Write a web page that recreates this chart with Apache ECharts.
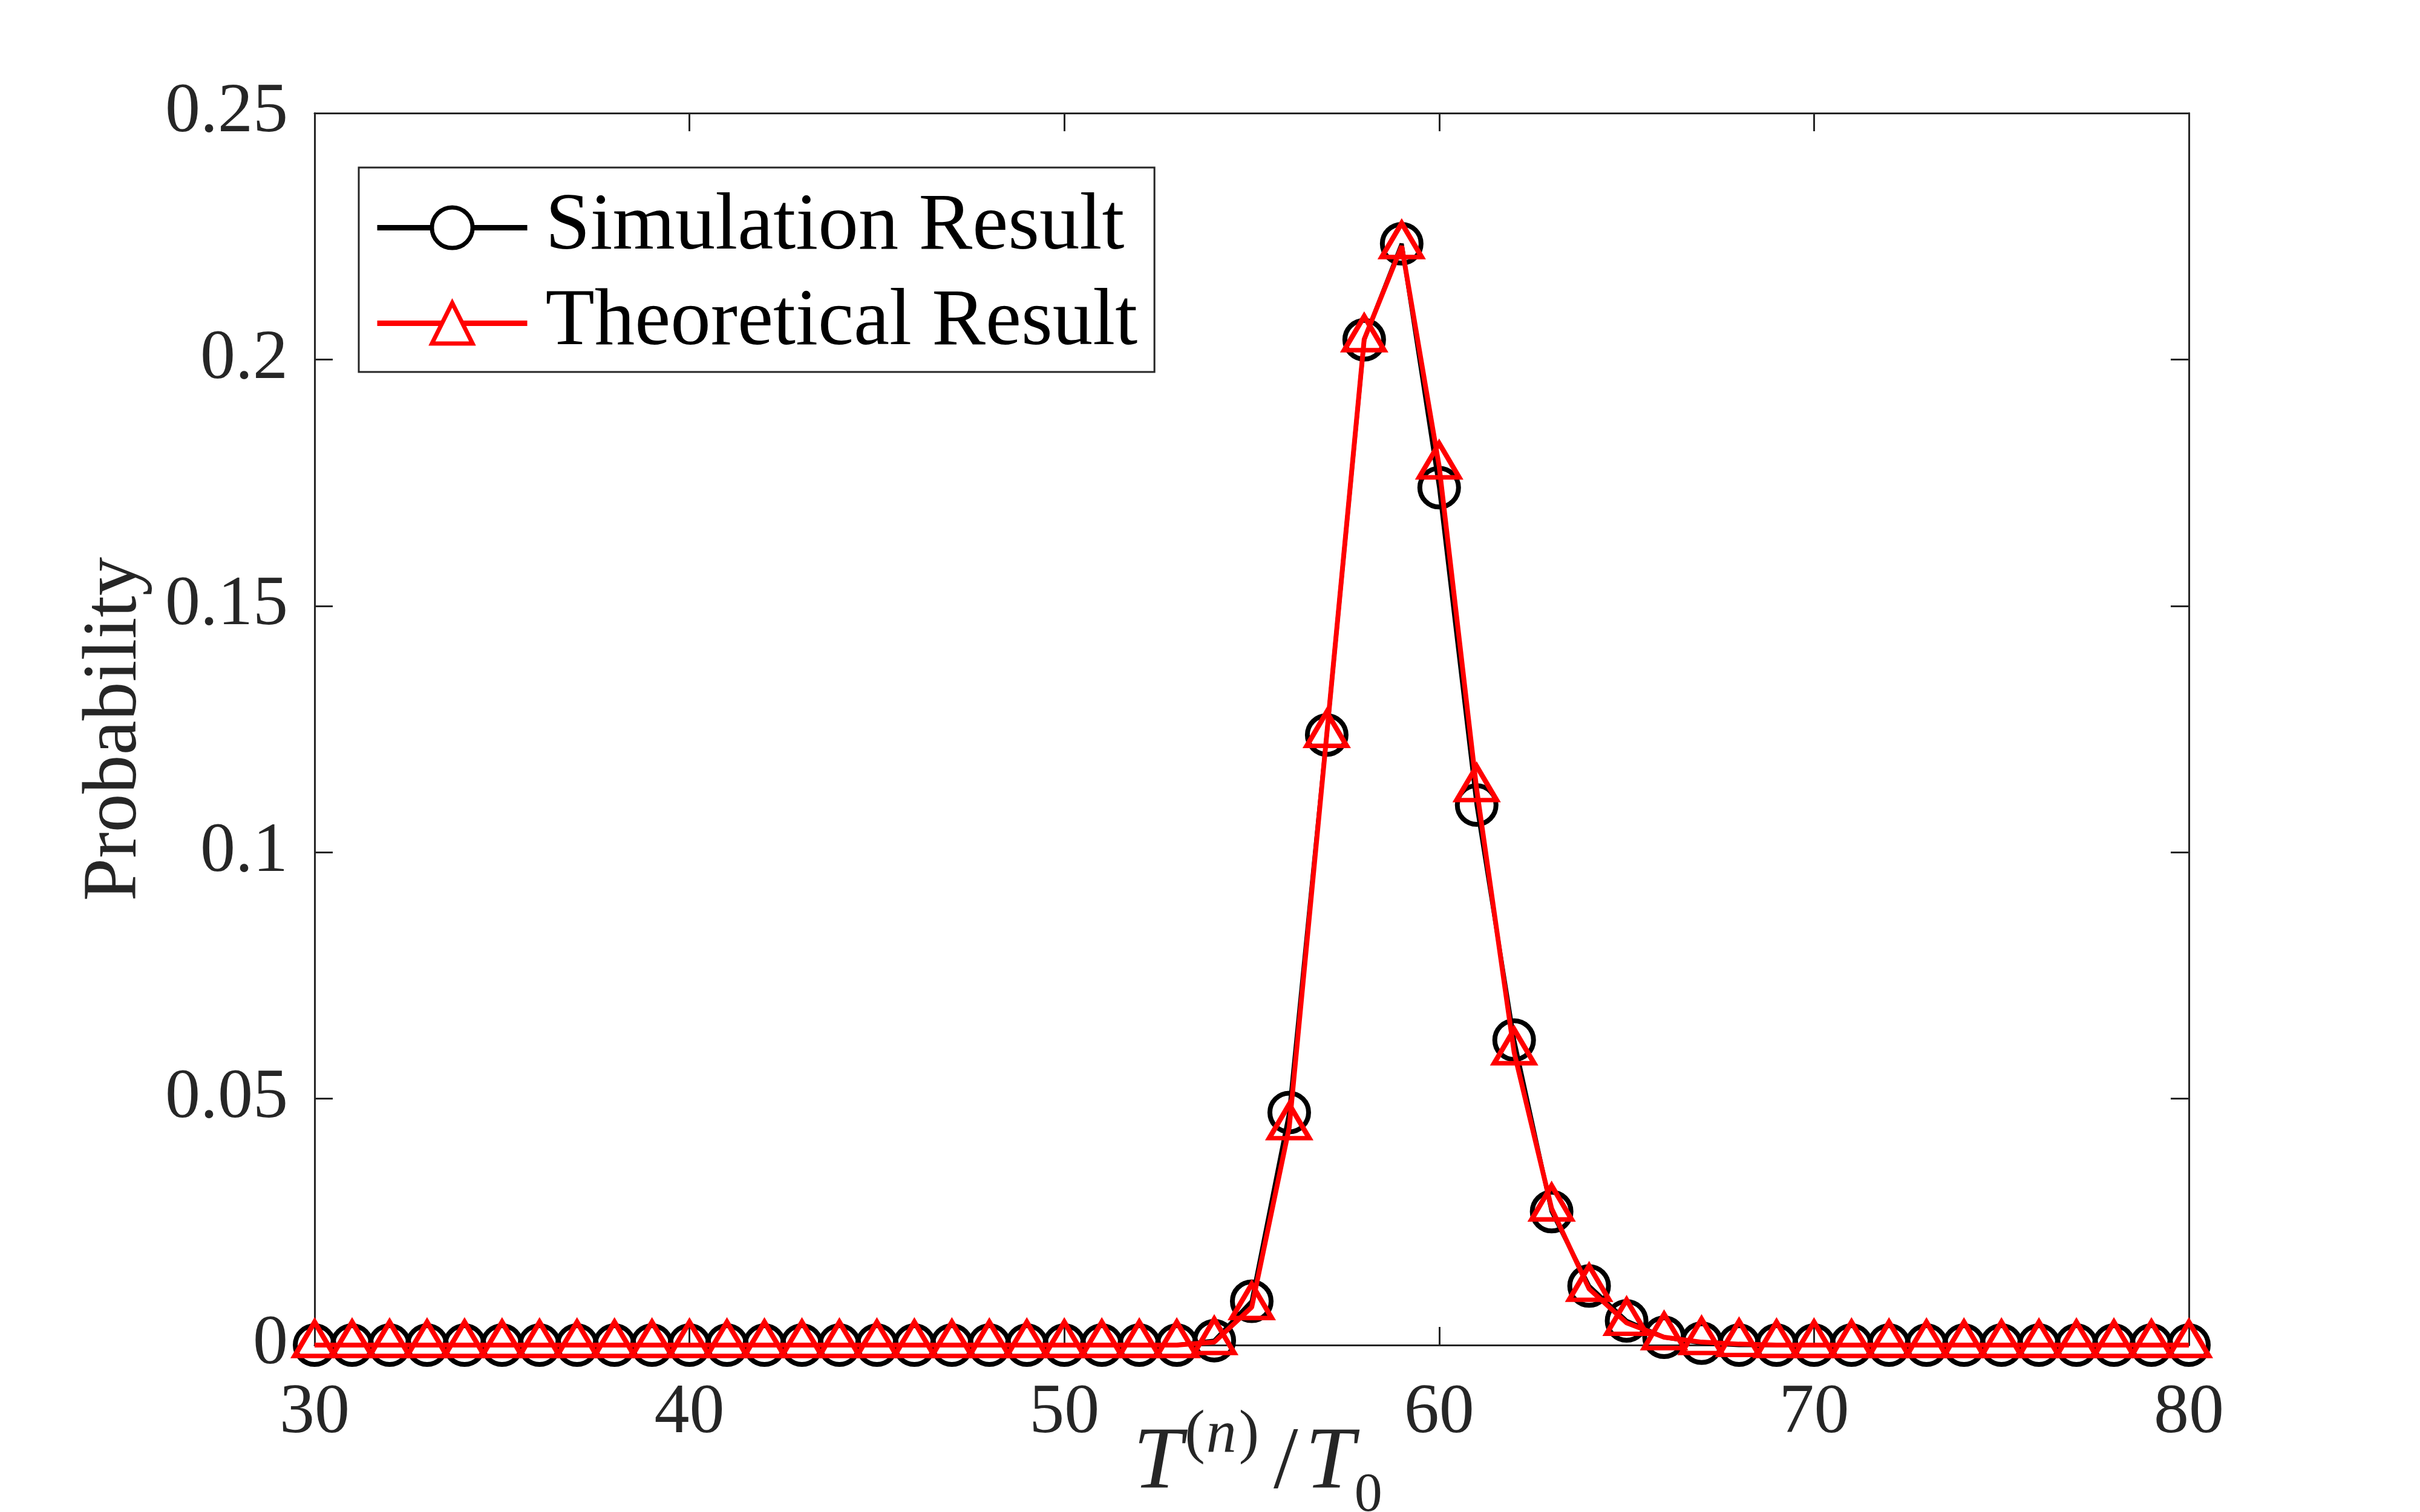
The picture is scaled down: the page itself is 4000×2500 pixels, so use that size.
<!DOCTYPE html>
<html>
<head>
<meta charset="utf-8">
<script src="https://cdn.jsdelivr.net/npm/echarts@6/dist/echarts.min.js"></script>
<style>
  html, body { margin: 0; padding: 0; background: #fff; }
  #chart { width: 4000px; height: 2500px; }
</style>
</head>
<body>
<div id="chart"></div>
<script>
// x positions T(n)/T0, 30..80
const xValues = [30,31,32,33,34,35,36,37,38,39,40,41,42,43,44,45,46,47,48,49,50,
  51,52,53,54,55,56,57,58,59,60,61,62,63,64,65,66,67,68,69,70,
  71,72,73,74,75,76,77,78,79,80];

// simulation (black circles)
const simValues = [0,0,0,0,0,0,0,0,0,0,0,0,0,0,0,0,0,0,0,0,0,
  0,0,0,0.0009,0.0089,0.0472,0.1238,0.2040,0.2235,0.1740,0.1096,0.0619,0.0271,0.0120,0.0049,0.0016,0.0004,0,0,0,
  0,0,0,0,0,0,0,0,0,0];

// theoretical (red triangles)
const theoValues = [0,0,0,0,0,0,0,0,0,0,0,0,0,0,0,0,0,0,0,0,0,
  0,0,0,0.0006,0.0077,0.0442,0.1238,0.2041,0.2230,0.1783,0.1128,0.0594,0.0277,0.0114,0.0045,0.0016,0.0006,0.0002,0,0,
  0,0,0,0,0,0,0,0,0,0];

const seriesNames = ['Simulation Result', 'Theoretical Result'];

const axisColor = '#262626';
const serif = 'Liberation Serif';

let chart = echarts.init(document.getElementById('chart'));

let axisCommon = {
  axisLine: { show: true, onZero: false, lineStyle: { color: axisColor, width: 3 } },
  axisTick: { show: true, inside: true, length: 30, lineStyle: { color: axisColor, width: 3 } },
  splitLine: { show: false },
  nameMoveOverlap: false
};

let option = {
  backgroundColor: '#fff',
  animation: false,
  grid: { left: 520, right: 382, top: 187, bottom: 276, containLabel: false, outerBoundsMode: 'none' },
  legend: {
    orient: 'vertical',
    left: 593,
    top: 277,
    padding: [33, 28, 14, 26],
    itemGap: 25,
    itemWidth: 248,
    itemHeight: 84,
    backgroundColor: '#fff',
    borderColor: axisColor,
    borderWidth: 3,
    borderRadius: 0,
    lineStyle: { width: 9 },
    textStyle: { fontFamily: serif, fontSize: 133, lineHeight: 133, color: '#000', padding: [0, 0, 0, 25] },
    data: [
      { name: seriesNames[0], itemStyle: { color: '#fff', borderColor: '#000', borderWidth: 7 } },
      { name: seriesNames[1], itemStyle: { color: '#fff', borderColor: '#ff0000', borderWidth: 7 } }
    ]
  },
  xAxis: [
    Object.assign({}, axisCommon, {
      type: 'value', position: 'bottom', min: 30, max: 80, interval: 10,
      axisLabel: { fontFamily: serif, fontSize: 116, color: axisColor, margin: 56 },
      name: '{t|T}{p|(}{n|n}{p|)}{sl|/}{t|T}{z|0}',
      nameLocation: 'middle',
      nameGap: 100,
      nameTextStyle: {
        color: axisColor,
        padding: [0, 0, 0, 20],
        rich: {
          t: { fontFamily: serif, fontStyle: 'italic', fontSize: 146, lineHeight: 196, color: axisColor },
          p: { fontFamily: serif, fontSize: 100, lineHeight: 146, verticalAlign: 'top', padding: [0, 2, 0, 4], color: axisColor },
          n: { fontFamily: serif, fontStyle: 'italic', fontSize: 100, lineHeight: 146, verticalAlign: 'top', color: axisColor },
          sl: { fontFamily: serif, fontSize: 146, lineHeight: 196, padding: [0, 12, 0, 22], color: axisColor },
          z: { fontFamily: serif, fontSize: 92, lineHeight: 124, verticalAlign: 'bottom', color: axisColor }
        }
      }
    }),
    Object.assign({}, axisCommon, {
      type: 'value', position: 'top', min: 30, max: 80, interval: 10,
      axisLabel: { show: false }
    })
  ],
  yAxis: [
    Object.assign({}, axisCommon, {
      type: 'value', position: 'left', min: 0, max: 0.25, interval: 0.05,
      axisLabel: { fontFamily: serif, fontSize: 116, color: axisColor, margin: 44 },
      name: 'Probability',
      nameLocation: 'middle',
      nameGap: 266,
      nameTextStyle: { fontFamily: serif, fontSize: 128, color: axisColor }
    }),
    Object.assign({}, axisCommon, {
      type: 'value', position: 'right', min: 0, max: 0.25, interval: 0.05,
      axisLabel: { show: false }
    })
  ],
  series: [
    {
      name: seriesNames[0],
      type: 'line',
      data: xValues.map((x, i) => [x, simValues[i]]),
      symbol: 'circle',
      symbolSize: 64,
      clip: false,
      itemStyle: { color: 'rgba(0,0,0,0)', borderColor: '#000', borderWidth: 8 },
      lineStyle: { color: '#000', width: 7 },
      emphasis: { disabled: true },
      z: 2
    },
    {
      name: seriesNames[1],
      type: 'line',
      data: xValues.map((x, i) => [x, theoValues[i]]),
      symbol: 'triangle',
      symbolSize: [66, 56],
      symbolOffset: [0, -10],
      clip: false,
      itemStyle: { color: 'rgba(0,0,0,0)', borderColor: '#ff0000', borderWidth: 8 },
      lineStyle: { color: '#ff0000', width: 8 },
      emphasis: { disabled: true },
      z: 3
    }
  ]
};

chart.setOption(option);
</script>
</body>
</html>
